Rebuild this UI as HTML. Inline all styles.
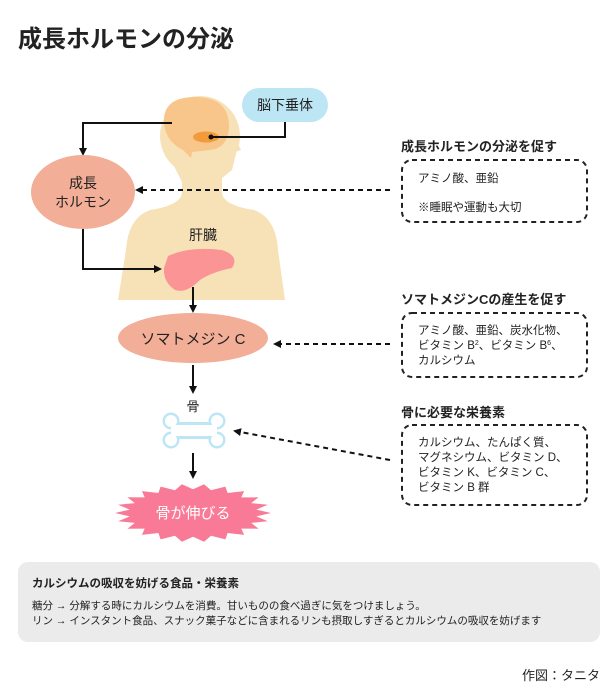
<!DOCTYPE html>
<html><head><meta charset="utf-8"><style>
html,body{margin:0;padding:0;background:#fff}
svg{display:block}
text{font-family:"Liberation Sans","Noto Sans CJK JP",sans-serif;fill:#222}
</style></head><body>
<svg width="615" height="700" viewBox="0 0 615 700" xmlns="http://www.w3.org/2000/svg">
<defs>
<marker id="ah" markerWidth="8" markerHeight="8" refX="6" refY="4" orient="auto" markerUnits="userSpaceOnUse"><path d="M0,0 L8,4 L0,8 z" fill="#111"/></marker>
</defs>
<text x="18" y="47" font-size="24" font-weight="bold">成長ホルモンの分泌</text>

<!-- body -->
<g fill="#f7e2b8">
<ellipse cx="200" cy="136" rx="40" ry="40"/>
<path d="M166,150 L182,182 L182,195 L222,195 L222,178 L232,170 L237,150 Z"/>
<path d="M236,140 L241,150 L232,153 Z"/>
<path d="M182,192 Q182,205 150,210 Q128,218 126,250 L118,300 L285,300 L278,250 Q276,218 254,210 Q222,205 222,192 Z"/>
</g>
<path d="M164,118 Q166,97 195,97 Q228,97 229,125 Q229,148 210,150 L192,152 L191,158 L183,150 Q163,140 164,118 Z" fill="#f8c58a"/>
<ellipse cx="206" cy="137" rx="13" ry="5.5" fill="#f29b3a"/>
<rect x="242" y="88" width="86" height="34" rx="17" fill="#bde6f5"/>
<text x="285" y="110" font-size="14" text-anchor="middle">脳下垂体</text>
<polyline points="211,137 285,137 285,122" fill="none" stroke="#111" stroke-width="2"/>
<circle cx="211" cy="137" r="2.5" fill="#111"/>

<polyline points="172,123 83,123 83,154" fill="none" stroke="#111" stroke-width="2" marker-end="url(#ah)"/>
<ellipse cx="83" cy="192" rx="52" ry="37" fill="#f2ae96"/>
<text x="83" y="188" font-size="14" text-anchor="middle">成長</text>
<text x="83" y="207" font-size="14" text-anchor="middle">ホルモン</text>
<line x1="390" y1="190" x2="137" y2="190" stroke="#111" stroke-width="2" stroke-dasharray="5,4" marker-end="url(#ah)"/>

<text x="203" y="240" font-size="14" text-anchor="middle">肝臓</text>
<path d="M168,256 Q190,246 222,250 Q240,256 232,268 Q212,272 200,280 Q186,294 175,290 Q163,282 164,268 Z" fill="#fb9494"/>
<polyline points="83,229 83,269 160,269" fill="none" stroke="#111" stroke-width="2" marker-end="url(#ah)"/>
<line x1="193" y1="287" x2="193" y2="311" stroke="#111" stroke-width="2" marker-end="url(#ah)"/>

<ellipse cx="193" cy="338" rx="75" ry="25" fill="#f2ae96"/>
<text x="193" y="344" font-size="15" text-anchor="middle">ソマトメジン C</text>
<line x1="390" y1="344" x2="275" y2="344" stroke="#111" stroke-width="2" stroke-dasharray="5,4" marker-end="url(#ah)"/>
<line x1="193" y1="365" x2="193" y2="392" stroke="#111" stroke-width="2" marker-end="url(#ah)"/>
<text x="193" y="411" font-size="13" text-anchor="middle">骨</text>

<g fill="#bde6f5">
<circle cx="171" cy="421" r="8.5"/><circle cx="171" cy="440" r="8.5"/>
<circle cx="217" cy="421" r="8.5"/><circle cx="217" cy="440" r="8.5"/>
<rect x="171" y="422" width="46" height="17"/>
</g>
<g fill="#fff">
<circle cx="171" cy="421" r="6"/><circle cx="171" cy="440" r="6"/>
<circle cx="217" cy="421" r="6"/><circle cx="217" cy="440" r="6"/>
<rect x="171" y="425" width="46" height="11"/>
</g>
<line x1="390" y1="460" x2="235" y2="431" stroke="#111" stroke-width="2" stroke-dasharray="5,4" marker-end="url(#ah)"/>
<line x1="193" y1="453" x2="193" y2="477" stroke="#111" stroke-width="2" marker-end="url(#ah)"/>

<polygon id="burst" fill="#f97a96" points=""/>
<text x="193" y="518" font-size="15" text-anchor="middle" style="fill:#fff">骨が伸びる</text>

<!-- right boxes -->
<text x="401" y="151" font-size="13" font-weight="bold">成長ホルモンの分泌を促す</text>
<rect x="402" y="160" width="185" height="62" rx="10" fill="none" stroke="#222" stroke-width="2" stroke-dasharray="5,4"/>
<text x="418" y="182" font-size="11.5">アミノ酸、亜鉛</text>
<text x="418" y="211" font-size="11.5">※睡眠や運動も大切</text>

<text x="401" y="304" font-size="13" font-weight="bold">ソマトメジンCの産生を促す</text>
<rect x="402" y="313" width="185" height="64" rx="10" fill="none" stroke="#222" stroke-width="2" stroke-dasharray="5,4"/>
<text x="418" y="334" font-size="11.5">アミノ酸、亜鉛、炭水化物、</text>
<text x="418" y="349" font-size="11.5">ビタミン B<tspan font-size="7" dy="-4">2</tspan><tspan dy="4">、ビタミン B</tspan><tspan font-size="7" dy="-4">6</tspan><tspan dy="4">、</tspan></text>
<text x="418" y="364" font-size="11.5">カルシウム</text>

<text x="401" y="417" font-size="13" font-weight="bold">骨に必要な栄養素</text>
<rect x="402" y="425" width="185" height="80" rx="10" fill="none" stroke="#222" stroke-width="2" stroke-dasharray="5,4"/>
<text x="418" y="446" font-size="11.5">カルシウム、たんぱく質、</text>
<text x="418" y="461" font-size="11.5">マグネシウム、ビタミン D、</text>
<text x="418" y="476" font-size="11.5">ビタミン K、ビタミン C、</text>
<text x="418" y="491" font-size="11.5">ビタミン B 群</text>

<rect x="18" y="562" width="582" height="80" rx="10" fill="#ebebeb"/>
<text x="32" y="587" font-size="11.5" font-weight="bold">カルシウムの吸収を妨げる食品・栄養素</text>
<text x="32" y="609" font-size="10.5">糖分 → 分解する時にカルシウムを消費。甘いものの食べ過ぎに気をつけましょう。</text>
<text x="32" y="624" font-size="10.5">リン → インスタント食品、スナック菓子などに含まれるリンも摂取しすぎるとカルシウムの吸収を妨げます</text>
<text x="600" y="680" font-size="13" text-anchor="end">作図：タニタ</text>
</svg>
<script>
var p=[],n=22,cx=193,cy=513;
for(var i=0;i<n*2;i++){var a=Math.PI*i/n,r=(i%2?0.82:1);p.push((cx+Math.cos(a)*78*r).toFixed(1)+","+(cy+Math.sin(a)*29*r).toFixed(1));}
document.getElementById("burst").setAttribute("points",p.join(" "));
</script>
</body></html>
